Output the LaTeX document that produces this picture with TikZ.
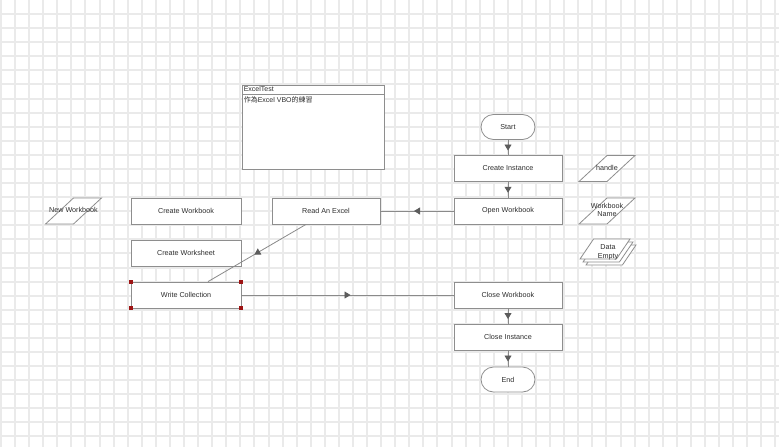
\documentclass[tikz,border=0pt]{standalone}
\usepackage{fontspec}
\setmainfont{Liberation Sans}
\newfontfamily\cjkfont{Noto Sans CJK TC}
\usetikzlibrary{arrows.meta,shapes.geometric,decorations.markings}
\definecolor{gridgray}{HTML}{EAEAEA}
\definecolor{boxgray}{HTML}{8E8E8E}
\definecolor{linegray}{HTML}{8A8A8A}
\definecolor{headgray}{HTML}{5C5C5C}
\definecolor{textgray}{HTML}{2E2E2E}
\definecolor{handlered}{HTML}{9E1414}
\newcommand{\iolabel}[1]{\makebox[0pt]{\begin{tabular}{@{}c@{}}#1\end{tabular}}}
\tikzset{
  stage/.style={draw=boxgray, fill=white, line width=0.8pt, minimum width=108pt, minimum height=26pt,
    font=\fontsize{7.2}{8.5}\selectfont, text=textgray},
  terminal/.style={stage, rounded corners=12.5pt, minimum width=54pt, minimum height=25pt},
  datain/.style={stage, shape=trapezium, trapezium left angle=60, trapezium right angle=120,
    trapezium stretches, minimum width=56pt, minimum height=26pt, inner sep=0pt},
  flow/.style={draw=linegray, line width=0.8pt, postaction=decorate,
    decoration={markings, mark=at position 0.5 with {\pgftransformxshift{3pt}\arrow[headgray]{Triangle[length=6pt,width=7pt]}}}},
}

\begin{document}
\begin{tikzpicture}[x=1pt,y=-1pt]
  \useasboundingbox (0,0) rectangle (779,447);
  \fill[white] (0,0) rectangle (779,447);
  % background grid, snapped to whole pixels
  \foreach \i in {0,...,55}{
    \pgfmathsetmacro\gx{round(1+14.08*\i)}
    \draw[gridgray, line width=2pt] (\gx,0) -- (\gx,447);}
  \foreach \j in {1,...,31}{
    \pgfmathsetmacro\gy{round(14.08*\j)}
    \draw[gridgray, line width=2pt] (0,\gy) -- (779,\gy);}

  % note box
  \node[draw=boxgray, fill=white, line width=0.8pt, minimum width=142pt, minimum height=84pt] (note) at (313,127) {};
  \draw[boxgray, line width=0.8pt] ([yshift=-10pt]note.north west) -- ([yshift=-10pt]note.north east);
  \node[anchor=north west, inner sep=1pt, font=\fontsize{7}{8}\selectfont, text=textgray] (notetitle) at ([xshift=1pt,yshift=-0.3pt]note.north west) {ExcelTest};
  \node[anchor=north west, inner sep=1pt, font=\fontsize{7}{8}\selectfont, text=textgray] (notebody) at ([xshift=1pt,yshift=-10.5pt]note.north west) {{\cjkfont 作為}Excel VBO{\cjkfont 的練習}};

  % main flow
  \node[terminal] (start) at (508,127) {Start};
  \node[stage] (createinst) at (508,168.5) {Create Instance};
  \node[stage] (openwb) at (508,211) {Open Workbook};
  \node[stage] (closewb) at (508,295) {Close Workbook};
  \node[stage] (closeinst) at (508,337) {Close Instance};
  \node[terminal] (stop) at (508,379.5) {End};

  % left branch
  \node[stage] (readxl) at (326,211) {Read An Excel};
  \node[stage, minimum width=110pt] (createwb) at (186,211) {Create Workbook};
  \node[stage, minimum width=110pt] (createws) at (186,253) {Create Worksheet};
  \node[stage, minimum width=110pt] (writecol) at (186,295) {Write Collection};

  % data items
  \node[datain] (newwb) at (73.5,211) {\iolabel{New Workbook}};
  \node[datain] (handle) at (607,168.5) {\iolabel{handle}};
  \node[datain] (wbname) at (607,211) {\iolabel{Workbook\\Name}};
  \foreach \k in {2,1} \node[datain, minimum width=50pt, minimum height=20pt] (dataempty\k) at ({605+3*\k},{249+3*\k}) {\phantom{X}};
  \node[datain, minimum width=50pt, minimum height=20pt] (dataempty) at (605,249) {\phantom{X}};
  \node[font=\fontsize{7.2}{8.5}\selectfont, text=textgray, inner sep=0pt] (dataemptytext) at (608,252.5) {\iolabel{Data\\Empty}};

  % connectors
  \draw[flow] (start) -- (createinst);
  \draw[flow] (createinst) -- (openwb);
  \draw[flow] (openwb) -- (readxl);
  \draw[flow] ([xshift=-20pt]readxl.south) -- ([xshift=22pt]writecol.north);
  \draw[flow] (writecol) -- (closewb);
  \draw[flow] (closewb) -- (closeinst);
  \draw[flow] (closeinst) -- (stop);

  % selection handles
  \foreach \c in {north west, north east, south west, south east}
    \fill[handlered] (writecol.\c) ++(-2,-2) rectangle ++(4,4);
\end{tikzpicture}
\end{document}
